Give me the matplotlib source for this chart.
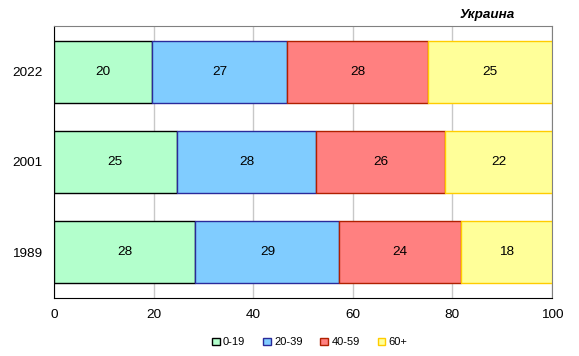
import matplotlib
matplotlib.use("Agg")
import matplotlib.pyplot as plt
from matplotlib.patches import Patch

plt.rcParams['font.family'] = ['Liberation Sans', 'DejaVu Sans']

# Данные: доли возрастных групп, %
years = ["1989", "2001", "2022"]
groups = ["0-19", "20-39", "40-59", "60+"]
g0_19 = [28.4, 24.6, 19.7]
g20_39 = [28.9, 28.1, 27.1]
g40_59 = [24.4, 25.8, 28.4]
g60 = [18.3, 21.6, 24.8]
series = [g0_19, g20_39, g40_59, g60]

faces = ["#b3ffcc", "#80ccff", "#ff8080", "#ffff99"]
edges = ["#000000", "#2a2a9a", "#b02000", "#ffcc00"]

fig = plt.figure(figsize=(5.79, 3.56), dpi=100)
ax = fig.add_axes([0.0933, 0.163, 0.86, 0.764])

left = [0, 0, 0]
for vals, fc, ec in zip(series, faces, edges):
    bars = ax.barh(years, vals, left=left, height=0.68, color=fc,
                   edgecolor=ec, linewidth=1.0, zorder=3)
    for b, v in zip(bars, vals):
        ax.text(b.get_x() + b.get_width() / 2, b.get_y() + b.get_height() / 2,
                f"{round(v):d}", ha="center", va="center", fontsize=9.7, zorder=4)
    left = [l + v for l, v in zip(left, vals)]

ax.set_xlim(0, 100)
ax.set_ylim(-0.51, 2.51)
ax.set_xticks(range(0, 101, 20))
ax.grid(axis="x", color="#c8c8c8", linewidth=1, zorder=0)
ax.tick_params(length=0, labelsize=9.7, pad=8)
ax.tick_params(axis="y", pad=8.5)
ax.spines["left"].set_color("black")
ax.spines["bottom"].set_color("black")
ax.spines["top"].set_color("#808080")
ax.spines["right"].set_color("#808080")

fig.text(0.842, 0.958, "Украина", ha="center", va="center", fontsize=9.7,
         fontweight="bold", fontstyle="italic")

handles = [Patch(facecolor=fc, edgecolor=ec, label=g) for g, fc, ec in zip(groups, faces, edges)]
fig.legend(handles=handles, loc="center", bbox_to_anchor=(0.535, 0.038), ncol=4,
           frameon=False, fontsize=8, handlelength=0.7, handleheight=0.7,
           handletextpad=0.3, columnspacing=1.6)

fig.savefig("out.png", dpi=100)
